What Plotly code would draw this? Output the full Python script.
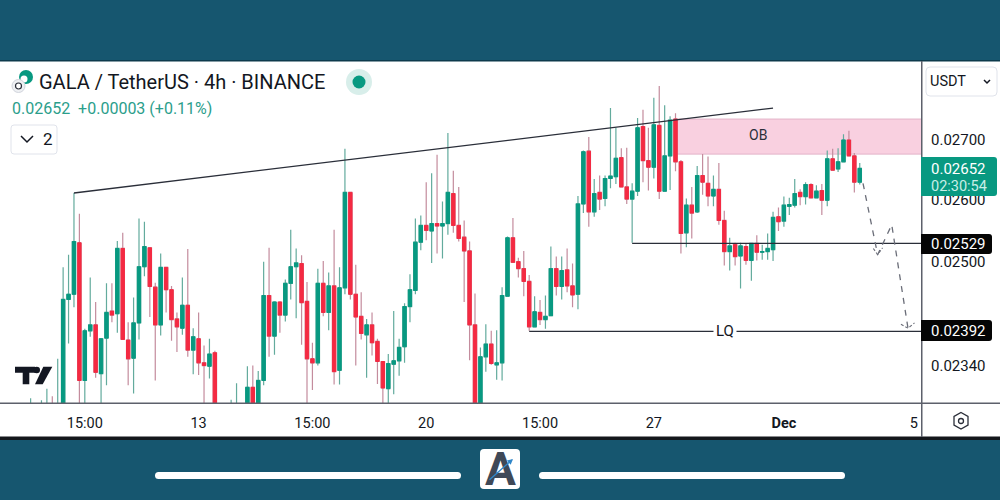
import numpy as np
import plotly.graph_objects as go

# prices in units of 0.00001
opens = [2255, 2270, 2260, 2265, 2278, 2255, 2280, 2441, 2449, 2530,
         2319, 2393, 2402, 2329, 2382, 2423, 2419, 2521, 2379, 2352,
         2405, 2492, 2522, 2460, 2402, 2491, 2456, 2411, 2397, 2432,
         2364, 2381, 2345, 2340, 2360, 2265, 2250, 2260, 2250, 2275,
         2260, 2309, 2275, 2319, 2447, 2385, 2437, 2417, 2466, 2492,
         2497, 2438, 2351, 2345, 2466, 2421, 2462, 2334, 2459, 2612,
         2449, 2415, 2387, 2402, 2377, 2347, 2307, 2343, 2348, 2369,
         2430, 2455, 2531, 2558, 2549, 2561, 2557, 2561, 2610, 2558,
         2539, 2517, 2402, 2275, 2354, 2373, 2342, 2345, 2446, 2538,
         2500, 2489, 2469, 2399, 2421, 2410, 2416, 2489, 2461, 2487,
         2462, 2449, 2593, 2681, 2580, 2612, 2602, 2635, 2638, 2670,
         2621, 2601, 2614, 2723, 2665, 2654, 2725, 2614, 2673, 2736,
         2663, 2546, 2591, 2580, 2640, 2627, 2606, 2617, 2566, 2516,
         2527, 2509, 2524, 2502, 2529, 2515, 2516, 2519, 2572, 2565,
         2589, 2591, 2612, 2605, 2625, 2603, 2615, 2599, 2668, 2651,
         2663, 2700, 2673, 2629]
highs = [2293, 2275, 2290, 2307, 2296, 2351, 2491, 2511, 2611, 2577,
         2396, 2475, 2437, 2382, 2466, 2466, 2533, 2546, 2406, 2444,
         2569, 2564, 2523, 2467, 2513, 2491, 2462, 2421, 2475, 2520,
         2397, 2421, 2371, 2381, 2363, 2280, 2275, 2291, 2315, 2280,
         2340, 2341, 2333, 2500, 2522, 2438, 2438, 2472, 2551, 2521,
         2510, 2468, 2375, 2489, 2501, 2483, 2551, 2491, 2685, 2612,
         2495, 2452, 2411, 2421, 2381, 2347, 2358, 2423, 2381, 2435,
         2480, 2569, 2574, 2629, 2644, 2675, 2597, 2712, 2648, 2621,
         2566, 2532, 2450, 2368, 2403, 2393, 2394, 2460, 2540, 2570,
         2506, 2517, 2479, 2446, 2440, 2447, 2524, 2508, 2508, 2521,
         2497, 2606, 2682, 2705, 2634, 2640, 2640, 2755, 2721, 2686,
         2687, 2627, 2738, 2752, 2721, 2773, 2794, 2760, 2741, 2746,
         2666, 2602, 2621, 2656, 2676, 2672, 2640, 2661, 2582, 2538,
         2530, 2530, 2529, 2530, 2542, 2527, 2545, 2580, 2587, 2605,
         2603, 2634, 2617, 2629, 2627, 2624, 2626, 2682, 2685, 2686,
         2710, 2716, 2678, 2661]
lows = [2250, 2250, 2240, 2245, 2245, 2240, 2270, 2374, 2429, 2279,
        2286, 2384, 2323, 2286, 2312, 2406, 2390, 2379, 2312, 2300,
        2380, 2477, 2414, 2319, 2386, 2421, 2378, 2361, 2387, 2354,
        2328, 2327, 2286, 2322, 2250, 2240, 2235, 2240, 2235, 2240,
        2245, 2250, 2265, 2312, 2354, 2357, 2390, 2407, 2441, 2412,
        2372, 2279, 2305, 2341, 2415, 2394, 2313, 2313, 2449, 2441,
        2341, 2380, 2323, 2356, 2314, 2282, 2282, 2299, 2326, 2345,
        2406, 2449, 2518, 2534, 2498, 2513, 2505, 2543, 2546, 2532,
        2437, 2349, 2260, 2260, 2332, 2342, 2320, 2319, 2445, 2498,
        2475, 2446, 2393, 2398, 2402, 2396, 2415, 2447, 2441, 2452,
        2429, 2426, 2578, 2556, 2572, 2583, 2589, 2619, 2626, 2620,
        2593, 2530, 2606, 2629, 2615, 2635, 2601, 2613, 2616, 2647,
        2513, 2523, 2537, 2578, 2608, 2589, 2589, 2559, 2494, 2486,
        2494, 2458, 2495, 2470, 2502, 2503, 2503, 2501, 2549, 2556,
        2575, 2587, 2591, 2592, 2602, 2602, 2575, 2589, 2648, 2646,
        2662, 2672, 2612, 2625]
closes = [2270, 2260, 2270, 2278, 2260, 2280, 2441, 2449, 2532, 2319,
          2393, 2402, 2331, 2381, 2421, 2417, 2521, 2380, 2351, 2405,
          2492, 2524, 2461, 2402, 2491, 2456, 2410, 2399, 2432, 2364,
          2384, 2345, 2341, 2358, 2265, 2250, 2260, 2270, 2275, 2255,
          2309, 2270, 2319, 2447, 2385, 2437, 2417, 2466, 2492, 2498,
          2436, 2351, 2345, 2466, 2421, 2462, 2332, 2459, 2612, 2449,
          2414, 2389, 2402, 2375, 2347, 2308, 2344, 2348, 2368, 2430,
          2456, 2531, 2558, 2550, 2561, 2557, 2561, 2612, 2558, 2537,
          2517, 2402, 2275, 2354, 2373, 2344, 2345, 2447, 2538, 2499,
          2489, 2469, 2399, 2422, 2410, 2415, 2489, 2461, 2486, 2462,
          2448, 2593, 2680, 2580, 2610, 2601, 2635, 2639, 2669, 2621,
          2601, 2614, 2721, 2665, 2654, 2726, 2614, 2673, 2734, 2663,
          2545, 2591, 2578, 2640, 2629, 2606, 2617, 2566, 2516, 2525,
          2508, 2525, 2502, 2529, 2515, 2516, 2521, 2571, 2564, 2591,
          2592, 2610, 2605, 2625, 2603, 2614, 2599, 2668, 2649, 2663,
          2700, 2673, 2629, 2652]

time_ticks = [10, 31, 52, 73, 94, 115, 139, 163]
time_labels = ["15:00", "13", "15:00", "20", "15:00", "27", "<b>Dec</b>", "5"]
price_ticks = [0.027, 0.026, 0.025, 0.0234]
price_labels = ["0.02700", "0.02600", "0.02500", "0.02340"]

# drawings on the chart, bar number / price
trend_x = [8, 137]
trend_y = [0.02611, 0.02755]
ob_x = [119, 165]
ob_low, ob_high = 0.02676, 0.02736
level_x = [111, 165]
level_y = 0.02529
lq_x = [92, 165]
lq_y = 0.02392
path_x = [153.6, 156.3, 158.9, 161.9]
path_y = [0.02627, 0.02511, 0.02559, 0.02397]
head1_x = [155.5, 156.3, 157.2]
head1_y = [0.02521, 0.02511, 0.02522]
head2_x = [160.6, 161.9, 163.1]
head2_y = [0.02403, 0.02397, 0.02405]

TEAL = "#16566f"
GREEN = "#089981"
RED = "#f42a42"
GREEN_WICK = "#63ab9d"
RED_WICK = "#c48c9d"
INK = "#131722"


def px(x):
    return x / 1000


def py(y):
    return 1 - y / 500


def rect(x0, y0, x1, y1, fill, line=None, layer="above"):
    return dict(type="rect", xref="paper", yref="paper", x0=px(x0), y0=py(y0), x1=px(x1), y1=py(y1),
                fillcolor=fill, line=dict(color=line or fill, width=1 if line else 0), layer=layer)


def poly(points, fill=None, line=None, width=1.5, close=True):
    d = "M " + " L ".join(f"{px(x)},{py(y)}" for x, y in points) + (" Z" if close else "")
    return dict(type="path", xref="paper", yref="paper", path=d, fillcolor=fill or "rgba(0,0,0,0)",
                line=dict(color=line or "rgba(0,0,0,0)", width=width if line else 0), layer="above")


def rounded(x0, y0, x1, y1, r, fill, line=None, left=True):
    # quadratic corners, the tags on the price scale are only round on the right
    rl = r if left else 0
    d = (f"M {px(x0 + rl)},{py(y0)} L {px(x1 - r)},{py(y0)} Q {px(x1)},{py(y0)} {px(x1)},{py(y0 + r)} "
         f"L {px(x1)},{py(y1 - r)} Q {px(x1)},{py(y1)} {px(x1 - r)},{py(y1)} L {px(x0 + rl)},{py(y1)} "
         f"Q {px(x0)},{py(y1)} {px(x0)},{py(y1 - rl)} L {px(x0)},{py(y0 + rl)} Q {px(x0)},{py(y0)} {px(x0 + rl)},{py(y0)} Z")
    return dict(type="path", xref="paper", yref="paper", path=d, fillcolor=fill,
                line=dict(color=line or fill, width=1 if line else 0), layer="above")


def circle(cx, cy, r, fill, line=None, width=1):
    return dict(type="circle", xref="paper", yref="paper", x0=px(cx - r), x1=px(cx + r), y0=py(cy + r), y1=py(cy - r),
                fillcolor=fill, line=dict(color=line or fill, width=width if line else 0), layer="above")


def label(x, y, text, size=14, color=INK, anchor="left", **kw):
    return dict(xref="paper", yref="paper", x=px(x), y=py(y), text=text, showarrow=False, xanchor=anchor,
                yanchor="middle", font=dict(family="Roboto", size=size, color=color), **kw)


o = np.array(opens) / 1e5
h = np.array(highs) / 1e5
l = np.array(lows) / 1e5
c = np.array(closes) / 1e5
bars = np.arange(len(opens))

fig = go.Figure()

# wicks are paler than the bodies in the picture so two layers of candles
fig.add_trace(go.Candlestick(x=bars, open=o, high=h, low=l, close=c, whiskerwidth=0, hoverinfo="skip",
                             increasing=dict(line=dict(color=GREEN_WICK, width=1.2), fillcolor=GREEN_WICK),
                             decreasing=dict(line=dict(color=RED_WICK, width=1.2), fillcolor=RED_WICK)))
fig.add_trace(go.Candlestick(x=bars, open=o, high=np.maximum(o, c), low=np.minimum(o, c), close=c, whiskerwidth=0,
                             hoverinfo="skip",
                             increasing=dict(line=dict(color=GREEN, width=1), fillcolor=GREEN),
                             decreasing=dict(line=dict(color=RED, width=1), fillcolor=RED)))

for xs, ys in [(trend_x, trend_y), (level_x, [level_y, level_y]), (lq_x, [lq_y, lq_y])]:
    fig.add_trace(go.Scatter(x=xs, y=ys, mode="lines", line=dict(color="#2a2e39", width=1.3), hoverinfo="skip"))

fig.add_trace(go.Scatter(x=path_x, y=path_y, mode="lines", line=dict(color="#6a6d78", width=1.3, dash="6px,6px"),
                         hoverinfo="skip"))
for xs, ys in [(head1_x, head1_y), (head2_x, head2_y)]:
    fig.add_trace(go.Scatter(x=xs, y=ys, mode="lines", line=dict(color="#6a6d78", width=1.1, dash="3px,2px"),
                             hoverinfo="skip"))

shapes = [
    rect(0, 61, 1000, 437, "white", layer="below"),
    # order block, below so the candles stay on top of it
    dict(type="rect", xref="x", yref="y", x0=ob_x[0], x1=ob_x[1], y0=ob_low, y1=ob_high, layer="below",
         fillcolor="#f9d0e0", line=dict(color="#e3b3c8", width=1)),
    rect(0, 60, 1000, 61.5, "#0d3a4c"),
    rect(0, 436.5, 1000, 440, "#14171c"),
    rect(921, 61, 922.5, 437, "#5d606b"),
    rect(0, 402.5, 1000, 404, "#5d606b"),
    # price tags
    rounded(921, 157, 997, 196, 3, GREEN, left=False),
    rounded(921, 234, 992, 254, 3, "#050505", left=False),
    rounded(921, 320, 992, 341, 3, "#050505", left=False),
    # currency button
    rounded(926, 67, 997, 96, 4, "white", "#e0e3eb"),
    poly([(984, 80), (987, 83), (990, 80)], line=INK, close=False),
    # collapsed indicators button
    rounded(11, 125, 57, 154, 3, "white", "#e0e3eb"),
    poly([(21, 136), (27, 142), (33, 136)], line=INK, close=False),
    # symbol logo
    circle(26, 77, 7, GREEN),
    circle(24, 79, 3.5, "white"),
    circle(18.5, 86, 6.5, "#eef0f3", "#d1d4dc"),
    circle(18.5, 86, 3, "white", "#2a2e39", 1.2),
    # market status dot
    circle(359, 82, 13, "#d8eeea"),
    circle(359, 82, 6.5, GREEN),
    # chart logo
    poly([(15, 366.7), (35, 366.7), (35, 372.7), (29.3, 372.7), (29.3, 384.3), (22.7, 384.3), (22.7, 372.7), (15, 372.7)],
         fill=INK),
    circle(36.7, 370, 3.3, INK),
    poly([(43.3, 366.7), (52.3, 366.7), (42.7, 384.3), (35, 384.3)], fill=INK),
    # settings icon
    poly([(961, 412.5), (968, 416.5), (968, 425), (961, 429), (954, 425), (954, 416.5)], line="#2a2e39", width=1.3),
    circle(961, 421, 2.5, "white", "#2a2e39", 1.3),
    # footer of the image
    rounded(155, 472, 461, 479, 3.5, "white"),
    rounded(539, 472, 845, 479, 3.5, "white"),
    rounded(480, 449, 520, 489, 4, "white"),
]

annotations = [
    label(37, 82, "GALA / TetherUS · 4h · BINANCE", size=20),
    label(10, 109, "0.02652  +0.00003 (+0.11%)", size=16, color="#2b9e8b"),
    label(41, 138.5, "2", size=17),
    label(928, 81, "USDT", size=14.5),
    label(929, 169.5, "0.02652", size=15, color="white"),
    label(929, 186.5, "02:30:54", size=14.5, color="#c9efe7"),
    label(929, 244, "0.02529", size=15, color="white"),
    label(929, 331, "0.02392", size=15, color="white"),
    label(758, 134.5, "OB", size=14, color="#2a2e39", anchor="center"),
    label(725, 331, "LQ", size=15, color=INK, anchor="center", bgcolor="white", borderpad=2),
    label(500, 469, "<b>A</b>", size=46, color="#3f4957", anchor="center"),
]

fig.update_layout(
    width=1000, height=500, margin=dict(l=0, r=0, t=0, b=0), autosize=False,
    paper_bgcolor=TEAL, plot_bgcolor="white", showlegend=False, boxgap=0.12,
    shapes=shapes, annotations=annotations, font=dict(family="Roboto"),
    xaxis=dict(domain=[0, 0.921], range=[-5.65, 164.3], rangeslider=dict(visible=False), showgrid=False, zeroline=False,
               tickmode="array", tickvals=time_ticks, ticktext=time_labels, ticks="", ticklabelstandoff=9,
               tickfont=dict(family="Roboto", size=14.5, color=INK)),
    yaxis=dict(domain=[py(403), py(61)], type="log", side="right", anchor="x", showgrid=False, zeroline=False,
               range=[np.log10(0.027) - 263 / 3640, np.log10(0.027) + 79 / 3640],
               tickmode="array", tickvals=price_ticks, ticktext=price_labels, ticks="", ticklabelstandoff=9,
               tickfont=dict(family="Roboto", size=15, color=INK)),
)

# blue arrow on the footer logo, goes over the letter
fig.add_annotation(xref="paper", yref="paper", x=px(513), y=py(459), ax=-25, ay=22,
                   text="", showarrow=True, arrowhead=2, arrowsize=0.8, arrowwidth=1.4, arrowcolor="#2f86c9")

# browsers put an 8px margin on the body
fig.write_html("out.html", config=dict(displayModeBar=False),
               post_script="document.body.style.margin='0';document.body.style.overflow='hidden';")
